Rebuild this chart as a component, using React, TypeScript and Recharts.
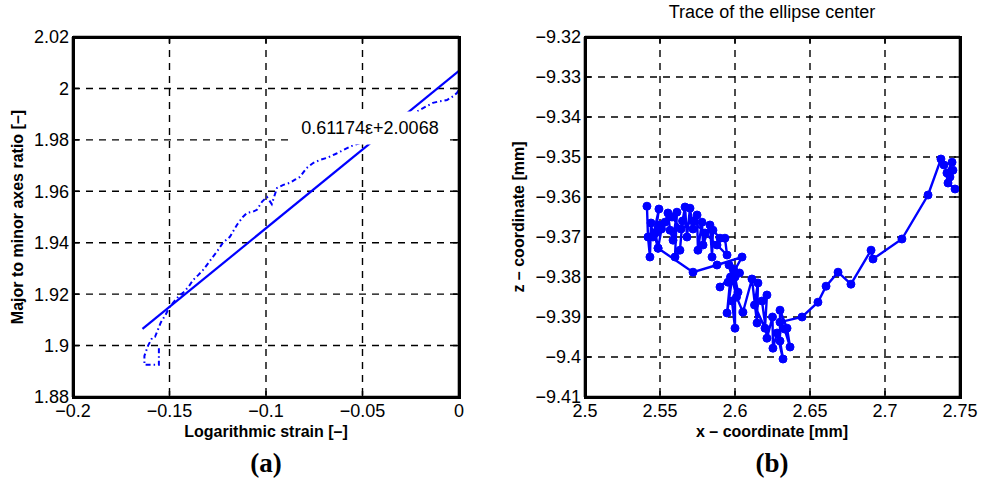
import React from "react"
import { ComposedChart, Line, XAxis, YAxis, CartesianGrid } from "recharts"

const BLUE = "#0000ff"
const FONT = '"Liberation Sans", Arial, Helvetica, sans-serif'

// (a) axes ratio of the ellipse vs. logarithmic strain
const strain = [
  -0.1555, -0.1555, -0.163, -0.163, -0.1611, -0.159, -0.1575, -0.1545, -0.152, -0.15,
  -0.1482, -0.1455, -0.143, -0.14, -0.1378, -0.135, -0.1326, -0.13, -0.1275, -0.125,
  -0.1223, -0.1187, -0.115, -0.112, -0.1098, -0.107, -0.1047, -0.102, -0.0995, -0.097,
  -0.0943, -0.091, -0.0876, -0.085, -0.0824, -0.079, -0.0756, -0.072, -0.0684, -0.064,
  -0.06, -0.056, -0.0513, -0.047, -0.042, -0.037, -0.032, -0.027, -0.023, -0.0202,
  -0.017, -0.0135, -0.01, -0.0062, -0.003, -0.001, 0,
]
const axesRatio = [
  1.899, 1.8925, 1.8925, 1.896, 1.9, 1.903, 1.9034, 1.909, 1.912, 1.915,
  1.9166, 1.919, 1.9205, 1.923, 1.9255, 1.9275, 1.9294, 1.932, 1.9345, 1.937,
  1.94, 1.9423, 1.947, 1.95, 1.9516, 1.952, 1.9528, 1.956, 1.9578, 1.955,
  1.9613, 1.9625, 1.9633, 1.9645, 1.9656, 1.969, 1.971, 1.9722, 1.973, 1.9745,
  1.976, 1.9775, 1.9788, 1.98, 1.982, 1.984, 1.986, 1.9885, 1.9905, 1.9917,
  1.993, 1.9944, 1.995, 1.9955, 1.997, 1.9983, 1.9995,
]

// linear fit through the ratio data
const FIT_SLOPE = 0.61174
const FIT_INTERCEPT = 2.0068
const fitStrain = [-0.164, 0]

const strainTicks = [-0.2, -0.15, -0.1, -0.05, 0]
const ratioTicks = [1.88, 1.9, 1.92, 1.94, 1.96, 1.98, 2, 2.02]

// (b) path of the ellipse center
const centerX = [
  2.5413, 2.542, 2.5433, 2.544, 2.5453, 2.5493, 2.547, 2.5487, 2.551, 2.5533,
  2.5553, 2.5567, 2.5587, 2.5613, 2.56, 2.5633, 2.565, 2.5667, 2.568, 2.57,
  2.572, 2.5747, 2.5753, 2.578, 2.5787, 2.5833, 2.5847, 2.5853, 2.59, 2.5933,
  2.5947, 2.588, 2.58, 2.572, 2.564, 2.558, 2.55, 2.546, 2.5487, 2.572,
  2.588, 2.6047, 2.5953, 2.6, 2.59, 2.597, 2.5947, 2.599, 2.602, 2.598,
  2.6, 2.6, 2.603, 2.596, 2.601, 2.6053, 2.6113, 2.6147, 2.6153, 2.613,
  2.62, 2.6213, 2.618, 2.6213, 2.625, 2.6253, 2.628, 2.632, 2.63, 2.63,
  2.6347, 2.6367, 2.633, 2.63, 2.6447, 2.6553, 2.6607, 2.6687, 2.6773, 2.6907,
  2.692, 2.7113, 2.7287, 2.7373, 2.7393, 2.7447, 2.7413, 2.7453, 2.7433, 2.742,
  2.7467,
]
const centerZ = [
  -9.3623, -9.37, -9.375, -9.3665, -9.37, -9.363, -9.369, -9.3728, -9.368, -9.3663,
  -9.364, -9.3683, -9.3708, -9.3638, -9.375, -9.3733, -9.366, -9.3625, -9.37, -9.3628,
  -9.368, -9.3645, -9.3733, -9.3663, -9.372, -9.367, -9.375, -9.3683, -9.3703, -9.3703,
  -9.3745, -9.372, -9.369, -9.366, -9.368, -9.365, -9.367, -9.369, -9.3728, -9.3788,
  -9.377, -9.375, -9.3813, -9.379, -9.3825, -9.38, -9.389, -9.378, -9.3838, -9.386,
  -9.3928, -9.38, -9.379, -9.377, -9.385, -9.3888, -9.3805, -9.3915, -9.3815, -9.387,
  -9.3928, -9.3845, -9.386, -9.3953, -9.39, -9.3978, -9.394, -9.4005, -9.396, -9.3883,
  -9.3928, -9.3975, -9.393, -9.3913, -9.39, -9.3863, -9.3823, -9.3788, -9.3818, -9.3733,
  -9.3755, -9.3705, -9.3595, -9.3505, -9.352, -9.3513, -9.354, -9.3533, -9.355, -9.3565,
  -9.358,
]

const xTicks = [2.5, 2.55, 2.6, 2.65, 2.7, 2.75]
const zTicks = [-9.41, -9.4, -9.39, -9.38, -9.37, -9.36, -9.35, -9.34, -9.33, -9.32]

const ratioData = strain.map((e, i) => ({ eps: e, ratio: axesRatio[i] }))
const fitData = fitStrain.map((e) => ({ eps: e, fit: FIT_SLOPE * e + FIT_INTERCEPT }))
const traceData = centerX.map((x, i) => ({ x, z: centerZ[i] }))

// page layout
const H = 482
const PLOT_TOP = 37
const PLOT_BOTTOM = 397
const FRAME = 3
const panels = [
  { left: 0, width: 490, plotLeft: 73, plotRight: 459 },
  { left: 490, width: 491, plotLeft: 585, plotRight: 960 },
]
const chartMargin = (p: (typeof panels)[number]) => ({
  top: PLOT_TOP - 1,
  bottom: H - PLOT_BOTTOM - 1,
  left: 0,
  right: p.left + p.width - p.plotRight - 1,
})

const fmt = (v: number) => (v < 0 ? "\u2212" + Math.abs(v) : String(v))

const tickText = { fontSize: 18, fill: "#000", fontFamily: FONT }
const TICK = 6

const BottomTick = (p: any) => (
  <g>
    <path d={`M${p.x},${p.y}v${-TICK}`} stroke="#000" strokeWidth={1.5} />
    <text x={p.x} y={p.y + 20} textAnchor="middle" {...tickText}>
      {fmt(p.payload.value)}
    </text>
  </g>
)
const LeftTick = (p: any) => (
  <g>
    <path d={`M${p.x},${p.y}h${TICK}`} stroke="#000" strokeWidth={1.5} />
    <text x={p.x - 4} y={p.y} dy="0.36em" textAnchor="end" {...tickText}>
      {fmt(p.payload.value)}
    </text>
  </g>
)
const TopTick = (p: any) => <path d={`M${p.x},${p.y}v${TICK}`} stroke="#000" strokeWidth={1.5} />
const RightTick = (p: any) => <path d={`M${p.x},${p.y}h${-TICK}`} stroke="#000" strokeWidth={1.5} />

// boxed axes with inward ticks
function boxAxes(xKey: string, xDomain: number[], xT: number[], yDomain: number[], yT: number[], yWidth: number) {
  const line = { stroke: "#000", strokeWidth: 2.6 }
  return [
    <CartesianGrid key="grid" stroke="#000" strokeWidth={1.4} strokeDasharray="7 6" />,
    <XAxis key="xb" dataKey={xKey} type="number" domain={xDomain} ticks={xT} height={1}
      tickSize={0} tickMargin={0} axisLine={line} tickLine={false} tick={BottomTick} interval={0} allowDataOverflow />,
    <XAxis key="xt" xAxisId="top" orientation="top" dataKey={xKey} type="number" domain={xDomain} ticks={xT} height={1}
      tickSize={0} tickMargin={0} axisLine={line} tickLine={false} tick={TopTick} interval={0} allowDataOverflow />,
    <YAxis key="yl" type="number" domain={yDomain} ticks={yT} width={yWidth}
      tickSize={0} tickMargin={0} axisLine={line} tickLine={false} tick={LeftTick} interval={0} allowDataOverflow />,
    <YAxis key="yr" yAxisId="right" orientation="right" type="number" domain={yDomain} ticks={yT} width={1}
      tickSize={0} tickMargin={0} axisLine={line} tickLine={false} tick={RightTick} interval={0} allowDataOverflow />,
  ]
}

const abs = (left: number, top: number, extra: React.CSSProperties = {}): React.CSSProperties => ({
  position: "absolute",
  left,
  top,
  transform: "translate(-50%, -50%)",
  whiteSpace: "nowrap",
  fontFamily: FONT,
  color: "#000",
  ...extra,
})

export default function App() {
  const axisTitle = { fontSize: 16, fontWeight: 700 }
  const panelTag = { fontSize: 27, fontWeight: 700, fontFamily: '"Liberation Serif", "Times New Roman", serif' }
  const [pa, pb] = panels
  return (
    <div style={{ position: "fixed", left: 0, top: 0, width: 981, height: H, background: "#fff", overflow: "hidden" }}>
      <div style={{ position: "absolute", left: pa.left, top: 0 }}>
        <ComposedChart width={pa.width} height={H} margin={chartMargin(pa)}>
          {boxAxes("eps", [-0.2, 0], strainTicks, [1.88, 2.02], ratioTicks, pa.plotLeft - pa.left)}
          <Line data={ratioData} dataKey="ratio" stroke={BLUE} strokeWidth={2} strokeDasharray="5 3 1.5 3"
            dot={false} isAnimationActive={false} />
          <Line data={fitData} dataKey="fit" stroke={BLUE} strokeWidth={2.2} dot={false} isAnimationActive={false} />
        </ComposedChart>
      </div>
      {/* fit equation, boxed on white over the lines */}
      <div style={abs(370, 128, { width: 154, height: 33, lineHeight: "33px", textAlign: "center", background: "#fff", fontSize: 18 })}>
        {`${FIT_SLOPE}\u03b5+${FIT_INTERCEPT}`}
      </div>
      <div style={{ position: "absolute", left: pb.left, top: 0 }}>
        <ComposedChart width={pb.width} height={H} data={traceData} margin={chartMargin(pb)}>
          {boxAxes("x", [2.5, 2.75], xTicks, [-9.41, -9.32], zTicks, pb.plotLeft - pb.left)}
          <Line dataKey="z" stroke={BLUE} strokeWidth={2.4} isAnimationActive={false}
            dot={{ r: 4, fill: BLUE, stroke: BLUE, strokeWidth: 1 }} />
        </ComposedChart>
      </div>

      {/* solid box around each plot area */}
      {panels.map((p) => (
        <div key={p.left} style={{
          position: "absolute",
          left: p.plotLeft - FRAME / 2,
          top: PLOT_TOP - FRAME / 2,
          width: p.plotRight - p.plotLeft - FRAME,
          height: PLOT_BOTTOM - PLOT_TOP - FRAME,
          border: `${FRAME}px solid #000`,
          pointerEvents: "none",
        }} />
      ))}

      <div style={abs(266, 432, axisTitle)}>Logarithmic strain [–]</div>
      <div style={abs(18, 217, { ...axisTitle, transform: "translate(-50%, -50%) rotate(-90deg)" })}>
        Major to minor axes ratio [–]
      </div>
      <div style={abs(772, 432, axisTitle)}>x – coordinate [mm]</div>
      <div style={abs(519, 217, { ...axisTitle, transform: "translate(-50%, -50%) rotate(-90deg)" })}>
        z – coordinate [mm]
      </div>
      <div style={abs(772, 12, { fontSize: 18 })}>Trace of the ellipse center</div>
      <div style={abs(266, 463, panelTag)}>(a)</div>
      <div style={abs(772, 463, panelTag)}>(b)</div>
    </div>
  )
}
